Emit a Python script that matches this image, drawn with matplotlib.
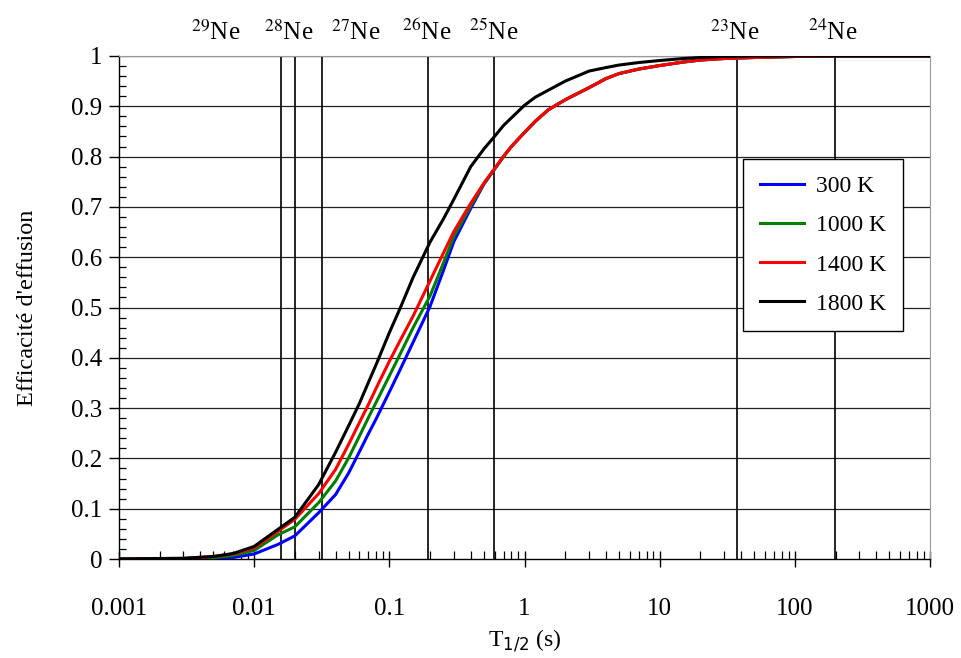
import matplotlib
matplotlib.use("Agg")
import matplotlib.pyplot as plt
import matplotlib.ticker as mticker
import numpy as np

plt.rcParams['font.family'] = ['Liberation Serif', 'DejaVu Serif']

# ---- data ----
t_half = [0.001, 0.002, 0.003, 0.005, 0.007, 0.01, 0.015, 0.02, 0.03, 0.04,
          0.05, 0.06, 0.07, 0.08, 0.1, 0.12, 0.15, 0.2, 0.25, 0.3,
          0.4, 0.5, 0.6, 0.7, 0.8, 1, 1.2, 1.5, 2, 3,
          4, 5, 7, 10, 15, 20, 30, 50, 100, 200,
          500, 1000]

eff_300K = [0, 0, 0, 0.0005, 0.003, 0.010, 0.029, 0.046, 0.092, 0.128,
            0.171, 0.213, 0.249, 0.279, 0.332, 0.376, 0.431, 0.502, 0.572, 0.631,
            0.697, 0.745, 0.775, 0.800, 0.820, 0.848, 0.870, 0.893, 0.913, 0.937,
            0.955, 0.965, 0.974, 0.981, 0.988, 0.992, 0.995, 0.997, 0.999, 1.0,
            1.0, 1.0]
eff_1000K = [0, 0, 0.0005, 0.003, 0.007, 0.017, 0.048, 0.064, 0.112, 0.155,
             0.201, 0.244, 0.281, 0.312, 0.364, 0.407, 0.460, 0.523, 0.587, 0.641,
             0.702, 0.746, 0.775, 0.800, 0.820, 0.848, 0.870, 0.893, 0.913, 0.937,
             0.955, 0.965, 0.974, 0.981, 0.988, 0.992, 0.995, 0.997, 0.999, 1.0,
             1.0, 1.0]
eff_1400K = [0, 0.0005, 0.001, 0.005, 0.010, 0.022, 0.055, 0.079, 0.130, 0.178,
             0.228, 0.271, 0.307, 0.340, 0.393, 0.434, 0.483, 0.553, 0.607, 0.651,
             0.707, 0.747, 0.776, 0.801, 0.820, 0.848, 0.870, 0.893, 0.913, 0.937,
             0.955, 0.965, 0.974, 0.981, 0.988, 0.992, 0.995, 0.997, 0.999, 1.0,
             1.0, 1.0]
eff_1800K = [0, 0.001, 0.0015, 0.005, 0.011, 0.025, 0.059, 0.083, 0.148, 0.212,
             0.265, 0.309, 0.351, 0.387, 0.450, 0.498, 0.560, 0.630, 0.675, 0.715,
             0.780, 0.815, 0.840, 0.862, 0.877, 0.902, 0.918, 0.932, 0.950, 0.970,
             0.977, 0.982, 0.987, 0.991, 0.995, 0.997, 0.999, 1.0, 1.0, 1.0,
             1.0, 1.0]

series_labels = ['300 K', '1000 K', '1400 K', '1800 K']
series_colors = ['#0000ff', '#008000', '#ff0000', '#000000']

isotopes = ['29', '28', '27', '26', '25', '23', '24']
isotope_half_lives = [0.0158, 0.020, 0.0315, 0.193, 0.594, 37.2, 198]

x_ticks = [0.001, 0.01, 0.1, 1, 10, 100, 1000]
y_ticks = [0, 0.1, 0.2, 0.3, 0.4, 0.5, 0.6, 0.7, 0.8, 0.9, 1]

# ---- figure ----
fig = plt.figure(figsize=(9.61, 6.58), dpi=100)
ax = fig.add_axes([119/961, 1-559/658, (930-119)/961, (559-56)/658])

ax.set_xscale('log')
ax.set_xlim(0.001, 1000)
ax.set_ylim(0, 1)

# horizontal grid
for yv in y_ticks[1:]:
    ax.axhline(yv, color='#222222', lw=0.9, zorder=1)

# isotope vertical lines
for th in isotope_half_lives:
    ax.axvline(th, color='black', lw=1.2, zorder=2)

for vals, lab, col in zip([eff_300K, eff_1000K, eff_1400K, eff_1800K],
                          series_labels, series_colors):
    ax.plot(t_half, vals, color=col, lw=2.2, label=lab, zorder=3)

# isotope labels (manual placements above the plot)
label_x = [0.00521, 0.0181, 0.0566, 0.19, 0.594, 35.9, 191]
for iso, lx in zip(isotopes, label_x):
    ax.text(lx, 1.022, r'$^{%s}$Ne' % iso, ha='center', va='bottom',
            fontsize=18, transform=ax.get_xaxis_transform(), clip_on=False,
            math_fontfamily='stix')

# spines
ax.spines['top'].set_color('#999999')
ax.spines['right'].set_color('#999999')
for s in ['left', 'bottom']:
    ax.spines[s].set_color('black')
    ax.spines[s].set_linewidth(1.0)

ax.xaxis.set_major_locator(mticker.FixedLocator(x_ticks))
ax.xaxis.set_major_formatter(mticker.FuncFormatter(lambda v, p: '%g' % v))
ax.xaxis.set_minor_locator(mticker.LogLocator(base=10, subs=np.arange(2, 10)))
ax.xaxis.set_minor_formatter(mticker.NullFormatter())
ax.yaxis.set_major_locator(mticker.FixedLocator(y_ticks))
ax.yaxis.set_major_formatter(mticker.FuncFormatter(lambda v, p: '%g' % v))
ax.yaxis.set_minor_locator(mticker.MultipleLocator(0.02))

ax.tick_params(axis='x', which='major', direction='inout', length=12, width=1,
               pad=22, labelsize=18)
ax.tick_params(axis='x', which='minor', direction='in', length=6, width=0.9)
ax.tick_params(axis='y', which='major', direction='out', length=7, width=1,
               pad=5, labelsize=18)
ax.tick_params(axis='y', which='minor', direction='in', length=5, width=0.9)

ax.set_xlabel(r'T$_{1/2}$ (s)', fontsize=17, labelpad=6)
ax.set_ylabel("Efficacité d'effusion", fontsize=17.5, labelpad=24)

leg = ax.legend(loc='upper left', bbox_to_anchor=((743-119)/811, 1-(159-56)/503),
                fontsize=17, frameon=True, fancybox=False, edgecolor='black',
                framealpha=1, handlelength=1.9, handletextpad=0.5,
                labelspacing=0.75, borderpad=0.7, borderaxespad=0)
leg.get_frame().set_linewidth(1.0)

fig.savefig('out.png', dpi=100)
